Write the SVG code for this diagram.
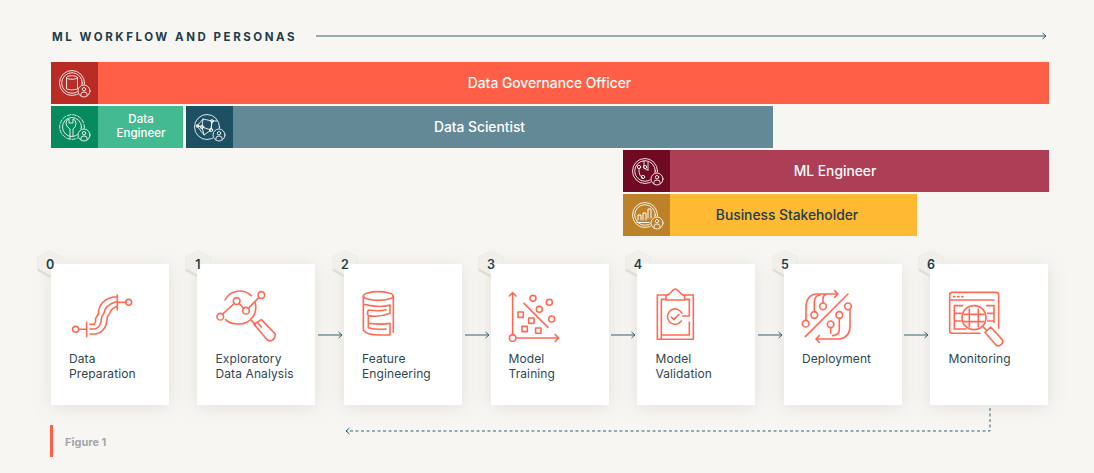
<svg xmlns="http://www.w3.org/2000/svg" width="1094" height="473" viewBox="0 0 1094 473">
<style>
text{font-family:"Inter","Liberation Sans",sans-serif}
.lbl{font-size:12px;fill:#2f4753;letter-spacing:.1px}
.bar{font-size:13.800px;text-anchor:middle;font-weight:500}
.num{font-size:12.500px;font-weight:600;fill:#1d3d4c;text-anchor:middle}
.sh{fill:#fff;filter:url(#sh)}
.card{fill:#fff}
.ic{fill:none;stroke:#ff6a55;stroke-width:4.800;stroke-linecap:round;stroke-linejoin:round}
.pi{fill:none;stroke:#fff;stroke-opacity:.85;stroke-width:1;stroke-linecap:round;stroke-linejoin:round}
.cn{fill:none;stroke:#34606f;stroke-width:1}
.ht{fill:#f0efea}.hb{fill:#e0dfd3}
</style>
<defs>
<filter id="sh" x="-30%" y="-30%" width="160%" height="160%"><feDropShadow dx="0" dy="2" stdDeviation="9" flood-color="#8a8678" flood-opacity=".2"/></filter>
<marker id="ah" markerWidth="8" markerHeight="10" refX="6" refY="4.500" orient="auto-start-reverse" markerUnits="userSpaceOnUse"><path d="M2.500 1.500L6 4.500L2.500 7.500" fill="none" stroke="#2f5f72" stroke-width="1"/></marker>
<g id="hex"><path class="hb" d="M0-14L12.500-7V7L0 14L-12.500 7V-7Z"/><path class="ht" d="M0-14L12.500-7V4L0 11L-12.500 4V-7Z"/></g>
<g id="badge"><circle cx="12" cy="8" r="6"/><circle cx="12" cy="6.200" r="1.700"/><path d="M9 12.500v-1.500q0-2 3-2t3 2v1.500"/></g>
</defs>
<rect width="1094" height="473" fill="#f8f6f3"/>
<text x="52" y="41" font-size="11.500" font-weight="700" fill="#1d3d4c" letter-spacing="2.550">ML WORKFLOW AND PERSONAS</text>

<g id="persona-dgo"><rect x="51" y="62" width="998" height="42" fill="#ff5f46"/><rect x="51" y="62" width="47" height="42" fill="#b92b25"/>
<g class="pi" transform="translate(72 83)"><circle r="12.500"/><circle r="10.300"/><ellipse cy="-5.500" rx="5.500" ry="1.800"/><path d="M-5.500-5.500V6q5.500 2 11 0V-5.500"/><circle cx="12" cy="8" r="6.600" fill="#b92b25" stroke="none"/><use href="#badge"/></g>
<text class="bar" x="549.500" y="88" fill="#fff">Data Governance Officer</text></g>

<g id="persona-de"><rect x="51" y="106" width="132" height="42" fill="#43ba92"/><rect x="51" y="106" width="47" height="42" fill="#078a5d"/>
<g class="pi" transform="translate(72 127)"><circle r="12.300" stroke-dasharray="3.500 1.800"/><circle r="9.500"/><path d="M-2 12V2Q-6 0-6-4Q-6-7-3-8V-4H1V-8Q4-7 4-4Q4 0 1 2V9"/><circle cx="12" cy="8" r="6.600" fill="#078a5d" stroke="none"/><use href="#badge"/></g>
<text class="bar" x="141" y="123" fill="#fff" style="font-size:11.500px">Data</text><text class="bar" x="141" y="137" fill="#fff" style="font-size:11.500px">Engineer</text></g>

<g id="persona-ds"><rect x="186" y="106" width="587" height="42" fill="#638896"/><rect x="186" y="106" width="47" height="42" fill="#1e5064"/>
<g class="pi" transform="translate(207 127)"><circle r="12.500"/><path d="M-10-1L-4-8L5-6L4 3L-3 8L-5 0L-4-8M-5 0L4 3L5-6L10-6M-10-1L-5 0M-3 8L-10-1"/><circle cx="-5" r="1.700"/><circle cx="4" cy="3" r="1.700"/><circle cx="5" cy="-6" r="1.400"/><circle cx="-9.500" cy="-1" r="1.400"/><circle cx="12" cy="8" r="6.600" fill="#1e5064" stroke="none"/><use href="#badge"/></g>
<text class="bar" x="479.500" y="131.500" fill="#fff">Data Scientist</text></g>

<g id="persona-ml"><rect x="623" y="150" width="426" height="42" fill="#ad3e55"/><rect x="623" y="150" width="47" height="42" fill="#6f0a22"/>
<g class="pi" transform="translate(645 171)"><circle r="12.500"/><circle r="10.300"/><path d="M-6-3V1Q-6 5-2 7M-1-10V-5Q-1-1 3-1M3-9V-1"/><circle cx="-6" cy="-4" r="1.700"/><circle cx="0" cy="-4" r="1.700"/><circle cx="-2" cy="6" r="1.700"/><circle cx="12" cy="8" r="6.600" fill="#6f0a22" stroke="none"/><use href="#badge"/></g>
<text class="bar" x="835" y="175.500" fill="#fff">ML Engineer</text></g>

<g id="persona-bs"><rect x="623" y="194" width="294" height="42" fill="#ffba33"/><rect x="623" y="194" width="47" height="42" fill="#bd812a"/>
<g class="pi" transform="translate(645 215)"><circle r="12.500"/><circle r="10.300"/><path d="M-7 5V0H-4V5M-2 5V-2H1V5M3 3V-6H6V3M-8 7.500H4" stroke-opacity="1"/><circle cx="12" cy="8" r="6.600" fill="#bd812a" stroke="none"/><use href="#badge"/></g>
<text class="bar" x="787" y="219.500" fill="#1d3d4c">Business Stakeholder</text></g>

<g id="connectors">
<path class="cn" d="M316 36H1046" marker-end="url(#ah)"/>
<path class="cn" d="M318 335H342" marker-end="url(#ah)"/>
<path class="cn" d="M465 335H489" marker-end="url(#ah)"/>
<path class="cn" d="M611 335H635" marker-end="url(#ah)"/>
<path class="cn" d="M758 335H782" marker-end="url(#ah)"/>
<path class="cn" d="M904 335H928" marker-end="url(#ah)"/>
<path class="cn" d="M990 408V431H346" stroke-dasharray="3 2.500" marker-end="url(#ah)"/>
</g>

<g id="step0"><rect class="sh" x="51" y="264" width="118" height="141"/><use href="#hex" x="50" y="264"/><rect class="card" x="51" y="264" width="118" height="141"/><text class="num" x="50" y="268.500">0</text>
<g class="ic" transform="translate(30 245) scale(.3333)"><circle cx="137" cy="253" r="9"/><path d="M146 253H170M170 232V275M180 238H192Q198 232 197 220L205 207Q207 165 250 156H258M180 252H195Q214 246 215 215L222 205Q224 180 258 170M180 267H195Q230 262 232 215L238 207Q242 192 258 185M262 150V195M262 172H287"/><circle cx="296" cy="172" r="9"/></g>
<text class="lbl" x="69" y="363">Data</text><text class="lbl" x="69" y="378">Preparation</text></g>

<g id="step1"><rect class="sh" x="197" y="264" width="118" height="141"/><use href="#hex" x="198" y="264"/><rect class="card" x="197" y="264" width="118" height="141"/><text class="num" x="198" y="268.500">1</text>
<g class="ic" transform="translate(30 245) scale(.3333)"><path d="M585 165A50 50 0 0 1 664 152M675 172A50 50 0 0 1 625 237Q600 238 587 224"/><circle cx="571" cy="215" r="10"/><circle cx="620" cy="168" r="10"/><circle cx="648" cy="197" r="10"/><circle cx="694" cy="150" r="10"/><path d="M578 207L613 175M627 175L641 190M655 190L687 157M664 226L676 238M672 238L694 224L735 266Q738 275 730 283Q722 291 712 285Z M682 232L694 246"/></g>
<text class="lbl" x="215.500" y="363">Exploratory</text><text class="lbl" x="215.500" y="378">Data Analysis</text></g>

<g id="step2"><rect class="sh" x="344" y="264" width="118" height="141"/><use href="#hex" x="345" y="264"/><rect class="card" x="344" y="264" width="118" height="141"/><text class="num" x="345" y="268.500">2</text>
<g class="ic" transform="translate(320 245) scale(.3333)"><ellipse cx="175" cy="153" rx="45" ry="13"/><path d="M130 153V255Q140 270 175 270H210V235Q190 240 145 235V212Q180 218 210 205V180Q180 190 131 178M145 212Q140 205 145 195Q180 200 198 194M145 235V248Q170 255 198 252M220 153V262"/></g>
<text class="lbl" x="362" y="363">Feature</text><text class="lbl" x="362" y="378">Engineering</text></g>

<g id="step3"><rect class="sh" x="491" y="264" width="118" height="141"/><use href="#hex" x="491" y="264"/><rect class="card" x="491" y="264" width="118" height="141"/><text class="num" x="491" y="268.500">3</text>
<g class="ic" transform="translate(320 245) scale(.3333)"><path d="M578 270V143M568 153L578 143L588 153M589 279H716M706 269L716 279L706 289M612 175L684 247"/><circle cx="578" cy="279" r="10"/><circle cx="639" cy="160" r="9"/><circle cx="688" cy="172" r="9"/><circle cx="658" cy="193" r="9"/><circle cx="695" cy="222" r="9"/><rect x="594" y="201" width="16" height="16"/><rect x="626" y="219" width="16" height="16"/><rect x="606" y="244" width="16" height="16"/><rect x="647" y="249" width="16" height="16"/></g>
<text class="lbl" x="508.500" y="363">Model</text><text class="lbl" x="508.500" y="378">Training</text></g>

<g id="step4"><rect class="sh" x="637" y="264" width="118" height="141"/><use href="#hex" x="638" y="264"/><rect class="card" x="637" y="264" width="118" height="141"/><text class="num" x="638" y="268.500">4</text>
<g class="ic" transform="translate(610 245) scale(.3333)"><path d="M168 150H142V283H250V150H224M154 283V163H168M224 163H238V213H218M238 232V270H154M168 165V152Q180 148 185 140Q195 125 207 140Q212 148 224 152V165Z"/><path d="M216 205A23 23 0 1 0 214 228"/><path d="M184 216L192 224L207 208"/></g>
<text class="lbl" x="655.500" y="363">Model</text><text class="lbl" x="655.500" y="378">Validation</text></g>

<g id="step5"><rect class="sh" x="784" y="264" width="118" height="141"/><use href="#hex" x="785" y="264"/><rect class="card" x="784" y="264" width="118" height="141"/><text class="num" x="785" y="268.500">5</text>
<g class="ic" transform="translate(610 245) scale(.3333)"><path d="M714 147L586 275M684 147H618Q590 150 588 185V226M674 137L684 147L674 157M618 282H690Q722 275 720 240V195M628 272L618 282L628 292M613 201V172Q613 152 630 150M639 174V160Q640 150 650 148M662 248V265M688 220V255Q688 270 668 272"/><circle cx="587" cy="236" r="10"/><circle cx="613" cy="210" r="10"/><circle cx="639" cy="184" r="10"/><circle cx="662" cy="238" r="10"/><circle cx="688" cy="210" r="10"/><circle cx="714" cy="184" r="10"/></g>
<text class="lbl" x="802" y="363">Deployment</text></g>

<g id="step6"><rect class="sh" x="930" y="264" width="118" height="141"/><use href="#hex" x="931" y="264"/><rect class="card" x="930" y="264" width="118" height="141"/><text class="num" x="931" y="268.500">6</text>
<g class="ic" transform="translate(840 245) scale(.3333)"><path d="M420 265H337Q329 265 329 257V150Q329 142 337 142H468Q476 142 476 150V250M329 165H462M341 155H345M353 155H357M365 155H369M343 182V252M343 182H368M343 205H364M343 228H364M343 252H378M440 182H462V232M443 205H462M443 228H462"/><circle cx="402" cy="218" r="36"/><path d="M388 192V246M415 192V246M372 208H432M372 230H432M428 244L440 256M435 262L452 246L487 284Q491 292 484 299Q476 306 468 300Z"/></g>
<text class="lbl" x="948.500" y="363">Monitoring</text></g>

<rect x="50" y="425" width="3" height="32" fill="#ff5f46"/>
<text x="65" y="446" font-size="11" font-weight="700" fill="#a5a5aa">Figure 1</text>
</svg>
